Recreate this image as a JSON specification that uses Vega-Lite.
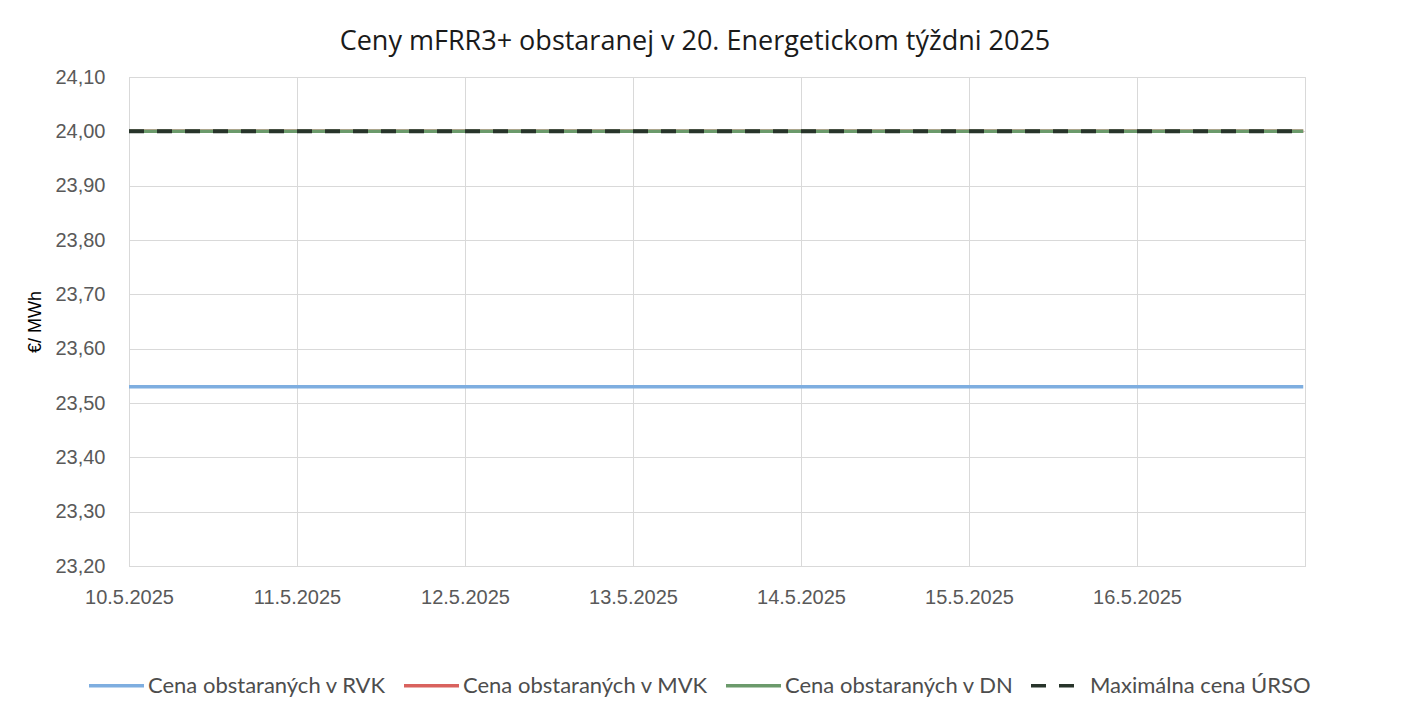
{
  "$schema": "https://vega.github.io/schema/vega-lite/v6.json",
  "width": 1176,
  "height": 489,
  "autosize": "none",
  "padding": {"left": 129, "top": 77, "right": 96, "bottom": 155},
  "background": "white",
  "title": {
    "text": "Ceny mFRR3+ obstaranej v 20. Energetickom týždni 2025",
    "font": "Open Sans",
    "fontSize": 27,
    "fontWeight": "normal",
    "color": "#1a1a1a",
    "anchor": "middle",
    "dx": -22,
    "offset": 11
  },
  "data": {
    "values": [
      {"series": "Cena obstaraných v RVK", "date": "2025-05-10T00:00", "value": 23.53},
      {"series": "Cena obstaraných v RVK", "date": "2025-05-11T00:00", "value": 23.53},
      {"series": "Cena obstaraných v RVK", "date": "2025-05-12T00:00", "value": 23.53},
      {"series": "Cena obstaraných v RVK", "date": "2025-05-13T00:00", "value": 23.53},
      {"series": "Cena obstaraných v RVK", "date": "2025-05-14T00:00", "value": 23.53},
      {"series": "Cena obstaraných v RVK", "date": "2025-05-15T00:00", "value": 23.53},
      {"series": "Cena obstaraných v RVK", "date": "2025-05-16T00:00", "value": 23.53},
      {"series": "Cena obstaraných v RVK", "date": "2025-05-16T23:45", "value": 23.53},
      {"series": "Cena obstaraných v MVK", "date": "2025-05-10T00:00", "value": 24.0},
      {"series": "Cena obstaraných v MVK", "date": "2025-05-11T00:00", "value": 24.0},
      {"series": "Cena obstaraných v MVK", "date": "2025-05-12T00:00", "value": 24.0},
      {"series": "Cena obstaraných v MVK", "date": "2025-05-13T00:00", "value": 24.0},
      {"series": "Cena obstaraných v MVK", "date": "2025-05-14T00:00", "value": 24.0},
      {"series": "Cena obstaraných v MVK", "date": "2025-05-15T00:00", "value": 24.0},
      {"series": "Cena obstaraných v MVK", "date": "2025-05-16T00:00", "value": 24.0},
      {"series": "Cena obstaraných v MVK", "date": "2025-05-16T23:45", "value": 24.0},
      {"series": "Cena obstaraných v DN", "date": "2025-05-10T00:00", "value": 24.0},
      {"series": "Cena obstaraných v DN", "date": "2025-05-11T00:00", "value": 24.0},
      {"series": "Cena obstaraných v DN", "date": "2025-05-12T00:00", "value": 24.0},
      {"series": "Cena obstaraných v DN", "date": "2025-05-13T00:00", "value": 24.0},
      {"series": "Cena obstaraných v DN", "date": "2025-05-14T00:00", "value": 24.0},
      {"series": "Cena obstaraných v DN", "date": "2025-05-15T00:00", "value": 24.0},
      {"series": "Cena obstaraných v DN", "date": "2025-05-16T00:00", "value": 24.0},
      {"series": "Cena obstaraných v DN", "date": "2025-05-16T23:45", "value": 24.0},
      {"series": "Maximálna cena ÚRSO", "date": "2025-05-10T00:00", "value": 24.0},
      {"series": "Maximálna cena ÚRSO", "date": "2025-05-11T00:00", "value": 24.0},
      {"series": "Maximálna cena ÚRSO", "date": "2025-05-12T00:00", "value": 24.0},
      {"series": "Maximálna cena ÚRSO", "date": "2025-05-13T00:00", "value": 24.0},
      {"series": "Maximálna cena ÚRSO", "date": "2025-05-14T00:00", "value": 24.0},
      {"series": "Maximálna cena ÚRSO", "date": "2025-05-15T00:00", "value": 24.0},
      {"series": "Maximálna cena ÚRSO", "date": "2025-05-16T00:00", "value": 24.0},
      {"series": "Maximálna cena ÚRSO", "date": "2025-05-16T23:45", "value": 24.0}
    ]
  },
  "encoding": {
    "x": {
      "field": "date",
      "type": "temporal",
      "scale": {
        "domain": [
          {"year": 2025, "month": 5, "date": 10},
          {"year": 2025, "month": 5, "date": 17}
        ]
      },
      "axis": {
        "title": null,
        "format": "%-d.%-m.%Y",
        "values": [
          {"year": 2025, "month": 5, "date": 10},
          {"year": 2025, "month": 5, "date": 11},
          {"year": 2025, "month": 5, "date": 12},
          {"year": 2025, "month": 5, "date": 13},
          {"year": 2025, "month": 5, "date": 14},
          {"year": 2025, "month": 5, "date": 15},
          {"year": 2025, "month": 5, "date": 16},
          {"year": 2025, "month": 5, "date": 17}
        ],
        "labelExpr": "datum.value >= datetime(2025, 4, 17) ? '' : datum.label",
        "labelFont": "Liberation Sans",
        "labelFontSize": 20,
        "labelColor": "#595959",
        "labelPadding": 21,
        "labelFlush": false,
        "labelOverlap": false,
        "ticks": false,
        "domainColor": "#d9d9d9",
        "gridColor": "#d9d9d9",
        "grid": true
      }
    },
    "y": {
      "field": "value",
      "type": "quantitative",
      "scale": {"domain": [23.2, 24.1], "nice": false, "zero": false},
      "axis": {
        "title": "€/ MWh",
        "titleFont": "Liberation Sans",
        "titleFontSize": 18,
        "titleFontWeight": "normal",
        "titleColor": "#000000",
        "titlePadding": 10,
        "values": [23.2, 23.3, 23.4, 23.5, 23.6, 23.7, 23.8, 23.9, 24.0, 24.1],
        "labelExpr": "replace(format(datum.value, '.2f'), '.', ',')",
        "labelFont": "Liberation Sans",
        "labelFontSize": 20,
        "labelColor": "#595959",
        "labelPadding": 24,
        "ticks": false,
        "domainColor": "#d9d9d9",
        "gridColor": "#d9d9d9",
        "grid": true
      }
    },
    "color": {
      "field": "series",
      "type": "nominal",
      "scale": {
        "domain": ["Cena obstaraných v RVK", "Cena obstaraných v MVK", "Cena obstaraných v DN", "Maximálna cena ÚRSO"],
        "range": ["#7eaee0", "#d9625e", "#6b9a6b", "#27342a"]
      },
      "legend": {
        "title": null,
        "orient": "none",
        "legendX": -42,
        "legendY": 579,
        "direction": "horizontal",
        "columns": 4,
        "gridAlign": "each",
        "symbolType": "stroke",
        "symbolSize": 3025,
        "symbolStrokeWidth": 3.5,
        "labelFont": "Lato",
        "labelFontSize": 22,
        "labelColor": "#4d4d4d",
        "labelLimit": 400,
        "labelOffset": 2,
        "columnPadding": 10
      }
    },
    "strokeDash": {
      "field": "series",
      "type": "nominal",
      "scale": {
        "domain": ["Cena obstaraných v RVK", "Cena obstaraných v MVK", "Cena obstaraných v DN", "Maximálna cena ÚRSO"],
        "range": [[1, 0], [1, 0], [1, 0], [15, 13]]
      },
      "legend": null
    }
  },
  "layer": [
    {"transform": [{"filter": "datum.series === 'Cena obstaraných v RVK'"}], "mark": {"type": "line", "strokeWidth": 3.5}},
    {"transform": [{"filter": "datum.series === 'Cena obstaraných v MVK'"}], "mark": {"type": "line", "strokeWidth": 3.5}},
    {"transform": [{"filter": "datum.series === 'Cena obstaraných v DN'"}], "mark": {"type": "line", "strokeWidth": 3.5}},
    {"transform": [{"filter": "datum.series === 'Maximálna cena ÚRSO'"}], "mark": {"type": "line", "strokeWidth": 4}}
  ],
  "config": {
    "view": {"stroke": "#d9d9d9"}
  }
}
